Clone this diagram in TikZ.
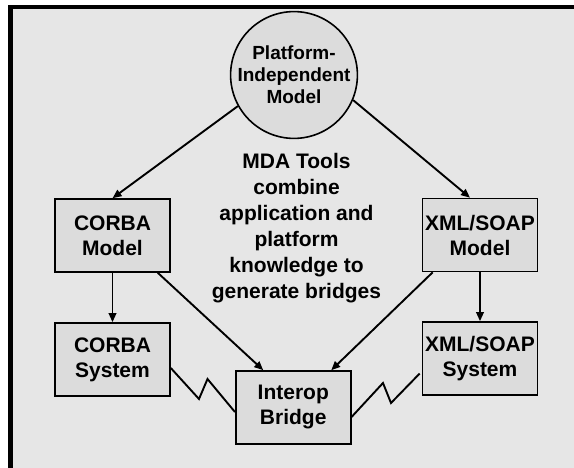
\documentclass[tikz,border=0pt]{standalone}
\usepackage{fontspec}
\setmainfont{Liberation Sans}
\usetikzlibrary{arrows.meta,calc}
\definecolor{bggray}{HTML}{E6E6E6}
\definecolor{boxgray}{HTML}{DCDCDC}
\begin{document}
\begin{tikzpicture}[x=1pt,y=-1pt,
  boxnode/.style={draw=black,line width=1.6pt,fill=boxgray,rectangle,minimum width=115pt,minimum height=73pt,inner sep=0pt,align=center,font=\fontsize{21}{25}\selectfont\bfseries},
  circnode/.style={draw=black,line width=1.6pt,fill=boxgray,circle,minimum size=120pt,inner sep=0pt,align=center,font=\fontsize{19}{22}\selectfont\bfseries},
  arr/.style={line width=1.9pt,-{Triangle[length=9pt,width=7.5pt]}},
  zig/.style={line width=1.9pt,line join=miter}]
\useasboundingbox (0,0) rectangle (574,468);
\fill[bggray] (8,5) rectangle (574,468);
\draw[line width=4.5pt] (10.5,468) -- (10.5,7) -- (574,7);

\node[circnode] (pim) at (294,75) {Platform-\\Independent\\Model};
\node[boxnode] (cm) at (112.5,235.5) {CORBA\\Model};
\node[boxnode] (cs) at (112.5,359.5) {CORBA\\System};
\node[boxnode] (xm) at (480,235) {XML/SOAP\\Model};
\node[boxnode] (xs) at (480,358.5) {XML/SOAP\\System};
\node[boxnode] (ib) at (293.25,407.5) {Interop\\Bridge};
\node[align=center,font=\fontsize{21}{26}\selectfont\bfseries] (txt) at (296.5,228) {MDA Tools\\combine\\application and\\platform\\knowledge to\\generate bridges};

\draw[arr] (pim.209) -- (cm.north);
\draw[arr] (pim.-23.5) -- ([xshift=-10pt]xm.north);
\draw[arr] (cm.south) -- (cs.north);
\draw[arr] (xm.south) -- (xs.north);
\draw[arr] ([xshift=-13pt]cm.south east) -- ([xshift=-30pt]ib.north);
\draw[arr] ([xshift=11pt]xm.south west) -- ([xshift=38pt]ib.north);

\coordinate (z1) at (199,399);
\coordinate (z2) at (207.5,379);
\coordinate (z3) at (383,383);
\coordinate (z4) at (391,403);
\draw[zig] ([yshift=-8.5pt]cs.east) -- (z1) -- (z2) -- ([yshift=-4.5pt]ib.west);
\draw[zig] ([yshift=-9.5pt]ib.east) -- (z3) -- (z4) -- ([yshift=-15pt,xshift=-2pt]xs.west);
\end{tikzpicture}
\end{document}
